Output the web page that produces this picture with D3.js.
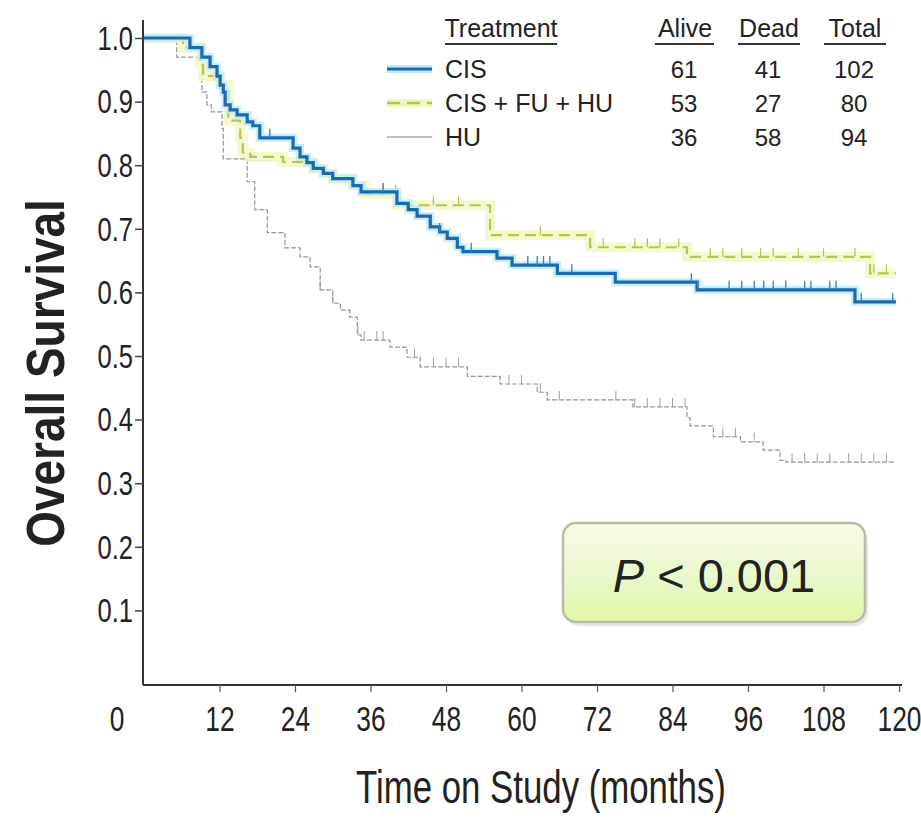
<!DOCTYPE html>
<html>
<head>
<meta charset="utf-8">
<script src="https://cdn.jsdelivr.net/npm/d3@7"></script>
<style>
  body { margin: 0; background: #fff; }
  svg text { fill: #222; }
</style>
</head>
<body>
<svg id="chart" width="921" height="818"></svg>
<script>
// Kaplan-Meier steps: [month, survival]
const cisSteps = [[0,1.0],[7.3,0.985],[9.2,0.97],[10.5,0.955],[11.6,0.94],[12.1,0.926],[12.6,0.915],[12.9,0.895],[13.7,0.887],[14.8,0.879],[16.4,0.868],[17.3,0.862],[18.4,0.843],[23.7,0.827],[24.8,0.813],[25.9,0.804],[26.9,0.795],[28.5,0.787],[30.0,0.779],[33.2,0.768],[34.5,0.758],[40.2,0.74],[42,0.73],[43.4,0.72],[45.5,0.703],[47,0.695],[48.2,0.685],[49.8,0.671],[50.7,0.664],[56.1,0.654],[58.5,0.643],[65.7,0.630],[74.9,0.616],[87.9,0.604],[113,0.585]];
const cisCensor = [20, 38, 47, 52, 61, 62.5, 63.5, 64.5, 68, 87, 88, 93, 95, 97, 98.5, 100, 102, 105, 106, 109, 110, 114, 119];

const comboSteps = [[0,1.0],[6.2,0.985],[8.9,0.96],[9.4,0.94],[12.1,0.926],[13.4,0.87],[15.3,0.843],[15.7,0.82],[16.9,0.813],[22.1,0.805],[26.9,0.795],[28.5,0.787],[30,0.779],[33.2,0.768],[35,0.755],[40.2,0.737],[55,0.69],[70.9,0.671],[86.3,0.656],[115.4,0.63]];
const comboCensor = [27, 38, 40, 46, 50, 63, 73, 78, 80, 82, 85, 90, 92, 95, 98, 100, 104, 108, 113, 116, 118];

const huSteps = [[0,1.0],[5.2,0.97],[9.2,0.915],[10,0.895],[10.7,0.884],[12.4,0.858],[12.6,0.81],[16.4,0.774],[17.6,0.73],[19.6,0.694],[22.4,0.67],[24.8,0.656],[26.4,0.64],[28,0.604],[30,0.583],[31.2,0.572],[32.7,0.561],[33.9,0.533],[34.5,0.525],[39.1,0.514],[41.8,0.498],[43.9,0.483],[51.4,0.468],[56.6,0.456],[62.5,0.443],[64.1,0.431],[77.7,0.42],[86.3,0.403],[86.8,0.39],[90.5,0.373],[94.8,0.365],[98.4,0.352],[101.1,0.336],[102,0.333]];
const huCensor = [28, 30, 34, 35, 37, 38, 43, 46, 48, 50, 58, 60, 63, 66, 75, 78, 80, 82, 84, 86, 92, 94, 97, 103, 105, 107, 109, 112, 114, 116, 118];

const followUpEnd = 119.5;

const treatments = ["CIS", "CIS + FU + HU", "HU"];
const alive = [61, 53, 36];
const dead = [41, 27, 58];
const total = [102, 80, 94];

const xTicks = [12, 24, 36, 48, 60, 72, 84, 96, 108, 120];
const yTicks = [0.1, 0.2, 0.3, 0.4, 0.5, 0.6, 0.7, 0.8, 0.9, 1.0];
const pText = "< 0.001";

const svg = d3.select("#chart");
const font = "'Liberation Sans', Arial, sans-serif";
// the picture's axis text is tall and narrow
const sx = 0.85, sy = 1.15;

const x = d3.scaleLinear().domain([0, 120]).range([144, 899]);
const y = d3.scaleLinear().domain([0, 1]).range([674, 38]);
const axisY = 685;
const axisX = 143;

// gradient for the p-value box
const defs = svg.append("defs");
const grad = defs.append("linearGradient").attr("id", "pbox").attr("x1", 0).attr("y1", 0).attr("x2", 0).attr("y2", 1);
grad.append("stop").attr("offset", "0%").attr("stop-color", "#f8fbe6");
grad.append("stop").attr("offset", "60%").attr("stop-color", "#e8f8c8");
grad.append("stop").attr("offset", "100%").attr("stop-color", "#e2f7a6");

// axes
const xAxis = d3.axisBottom(x).tickValues(xTicks).tickSize(7).tickSizeOuter(0).tickFormat(d3.format("d"));
const gx = svg.append("g").attr("transform", `translate(0,${axisY})`).call(xAxis);
gx.select(".domain").attr("d", `M${axisX},0H${x(120) + 3}`).attr("stroke", "#333").attr("stroke-width", 2);
gx.selectAll(".tick line").attr("stroke", "#555").attr("stroke-width", 1.2);
gx.selectAll(".tick text").attr("font-family", font).attr("font-size", 31).attr("dy", 0)
  .attr("y", 46 / sy).attr("transform", `scale(${sx},${sy})`).attr("fill", "#222");
svg.append("text").attr("transform", `translate(${x(0) - 27},${axisY + 46}) scale(${sx},${sy})`)
  .attr("text-anchor", "middle").attr("font-family", font).attr("font-size", 31).text("0");

const yAxis = d3.axisLeft(y).tickValues(yTicks).tickSize(8).tickSizeOuter(0).tickFormat(d3.format(".1f"));
const gy = svg.append("g").attr("transform", `translate(${axisX},0)`).call(yAxis);
gy.select(".domain").attr("d", `M0,20V${axisY}`).attr("stroke", "#333").attr("stroke-width", 2);
gy.selectAll(".tick line").attr("stroke", "#444").attr("stroke-width", 1.5);
gy.selectAll(".tick text").attr("font-family", font).attr("font-size", 30).attr("dy", "0.35em")
  .attr("x", -10 / sx).attr("transform", `scale(${sx},1.08)`).attr("fill", "#222");

svg.append("text").attr("transform", `translate(541,803) scale(0.87,1.15)`).attr("text-anchor", "middle")
  .attr("font-family", font).attr("font-size", 40).attr("fill", "#333").text("Time on Study (months)");
svg.append("text").attr("transform", "translate(64,373) rotate(-90) scale(1,1.15)").attr("text-anchor", "middle")
  .attr("font-family", font).attr("font-weight", "bold").attr("font-size", 46).attr("fill", "#111").text("Overall Survival");

// curves
const line = d3.line().x(d => x(d[0])).y(d => y(d[1])).curve(d3.curveStepAfter);
function withEnd(steps) {
  return steps.concat([[followUpEnd, steps[steps.length - 1][1]]]);
}
function survAt(steps, t) {
  let s = steps[0][1];
  steps.forEach(d => { if (d[0] <= t) s = d[1]; });
  return s;
}
function drawCensor(steps, times, color, w) {
  svg.append("g").selectAll("line").data(times).enter().append("line")
    .attr("x1", d => x(d)).attr("x2", d => x(d))
    .attr("y1", d => y(survAt(steps, d)) - 9).attr("y2", d => y(survAt(steps, d)))
    .attr("stroke", color).attr("stroke-width", w);
}

// HU
svg.append("path").datum(withEnd(huSteps)).attr("d", line).attr("fill", "none")
  .attr("stroke", "#959595").attr("stroke-width", 1.2).attr("stroke-dasharray", "5,2");
drawCensor(huSteps, huCensor, "#a0a0a0", 1);

// CIS + FU + HU
svg.append("path").datum(withEnd(comboSteps)).attr("d", line).attr("fill", "none")
  .attr("stroke", "#f1f6c0").attr("stroke-width", 10).attr("opacity", 0.8);
svg.append("path").datum(withEnd(comboSteps)).attr("d", line).attr("fill", "none")
  .attr("stroke", "#bcc24a").attr("stroke-width", 2.2).attr("stroke-dasharray", "11,6");
drawCensor(comboSteps, comboCensor, "#b8bd5a", 1.2);

// CIS
svg.append("path").datum(withEnd(cisSteps)).attr("d", line).attr("fill", "none")
  .attr("stroke", "#b8ecfa").attr("stroke-width", 8).attr("opacity", 0.8);
svg.append("path").datum(withEnd(cisSteps)).attr("d", line).attr("fill", "none")
  .attr("stroke", "#1d69ad").attr("stroke-width", 3.2);
drawCensor(cisSteps, cisCensor, "#3a7cb8", 1.3);

// legend table
const legend = svg.append("g");
const rowY = [78, 112, 146];
const lineStyles = [
  { stroke: "#1d69ad", width: 3.2, dash: null, halo: "#b8ecfa" },
  { stroke: "#bcc24a", width: 2.5, dash: "13,7", halo: "#f1f6c0" },
  { stroke: "#aaa", width: 1.5, dash: null, halo: null }
];
const headers = [["Treatment", 501], ["Alive", 685], ["Dead", 769], ["Total", 855]];
headers.forEach(h => {
  legend.append("text").attr("x", h[1]).attr("y", 37).attr("text-anchor", "middle")
    .attr("font-family", font).attr("font-size", 25).attr("fill", "#333").text(h[0]);
});
[[445, 557], [655, 714], [738, 800], [824, 886]].forEach(u => {
  legend.append("line").attr("x1", u[0]).attr("x2", u[1]).attr("y1", 44).attr("y2", 44)
    .attr("stroke", "#333").attr("stroke-width", 2.2);
});
treatments.forEach((t, i) => {
  const ls = lineStyles[i];
  if (ls.halo) {
    legend.append("line").attr("x1", 387).attr("x2", 432).attr("y1", rowY[i] - 9).attr("y2", rowY[i] - 9)
      .attr("stroke", ls.halo).attr("stroke-width", 8);
  }
  legend.append("line").attr("x1", 387).attr("x2", 432).attr("y1", rowY[i] - 9).attr("y2", rowY[i] - 9)
    .attr("stroke", ls.stroke).attr("stroke-width", ls.width).attr("stroke-dasharray", ls.dash);
  legend.append("text").attr("x", 445).attr("y", rowY[i]).attr("font-family", font).attr("font-size", 25).attr("fill", "#333").text(t);
  legend.append("text").attr("x", 684).attr("y", rowY[i]).attr("text-anchor", "middle").attr("font-family", font).attr("font-size", 24).text(alive[i]);
  legend.append("text").attr("x", 768).attr("y", rowY[i]).attr("text-anchor", "middle").attr("font-family", font).attr("font-size", 24).text(dead[i]);
  legend.append("text").attr("x", 854).attr("y", rowY[i]).attr("text-anchor", "middle").attr("font-family", font).attr("font-size", 24).text(total[i]);
});

// p-value box
svg.append("rect").attr("x", 566).attr("y", 527).attr("width", 302).attr("height", 99).attr("rx", 13)
  .attr("fill", "#d8d8d8").attr("opacity", 0.6);
svg.append("rect").attr("x", 563).attr("y", 523).attr("width", 302).attr("height", 99).attr("rx", 13)
  .attr("fill", "url(#pbox)").attr("stroke", "#b9bba4").attr("stroke-width", 2.5);
const pt = svg.append("text").attr("x", 714).attr("y", 592).attr("text-anchor", "middle")
  .attr("font-family", font).attr("font-size", 47).attr("fill", "#111");
pt.append("tspan").attr("font-style", "italic").text("P");
pt.append("tspan").text(" " + pText);
</script>
</body>
</html>
